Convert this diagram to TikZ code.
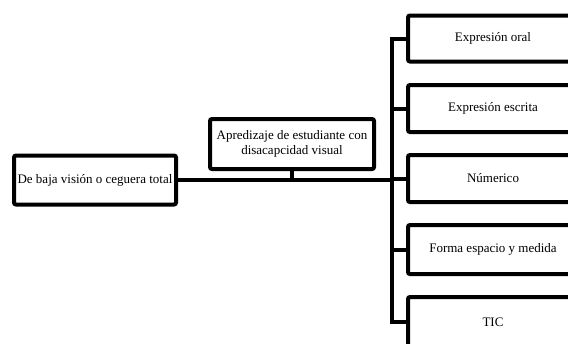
\documentclass[tikz,border=0pt]{standalone}
\usepackage{fontspec}
\setmainfont{Liberation Serif}
\begin{document}
\begin{tikzpicture}[x=1pt,y=-1pt,
  box/.style={draw=black,line width=4pt,rounded corners=2pt,fill=white,inner sep=1pt,
    align=center,font=\fontsize{13}{15.5}\selectfont},
  conn/.style={line width=4pt}]
\useasboundingbox (0,0) rectangle (568,343);
\clip (0,0) rectangle (568,343);
\fill[white] (0,0) rectangle (568,343);
% right boxes
\node[box,minimum width=170pt,minimum height=46pt] (b1) at (493,38.5) {Expresión oral};
\node[box,minimum width=170pt,minimum height=47pt] (b2) at (493,108.5) {Expresión escrita};
\node[box,minimum width=170pt,minimum height=47pt] (b3) at (493,178.5) {Númerico};
\node[box,minimum width=170pt,minimum height=49pt] (b4) at (493,249.5) {Forma espacio y medida};
\node[box,minimum width=170pt,minimum height=50pt] (b5) at (493,322) {TIC};
% left boxes
\node[box,minimum width=162pt,minimum height=49pt] (low) at (95,180) {De baja visión o ceguera total};
\node[box,minimum width=164pt,minimum height=50pt] (mid) at (292,144) {Apredizaje de estudiante con\\disacapcidad visual};
% connectors
\coordinate (sp) at (392,180);
\draw[conn] (b1.west) -- (b1.west -| sp) -- (b5.west -| sp) -- (b5.west);
\draw[conn] (b2.west) -- (b2.west -| sp);
\draw[conn] (b3.west) -- (b3.west -| sp);
\draw[conn] (b4.west) -- (b4.west -| sp);
\draw[conn] (low.east) -- (sp);
\draw[conn] (mid.south) -- (mid.south |- sp);
\end{tikzpicture}
\end{document}
